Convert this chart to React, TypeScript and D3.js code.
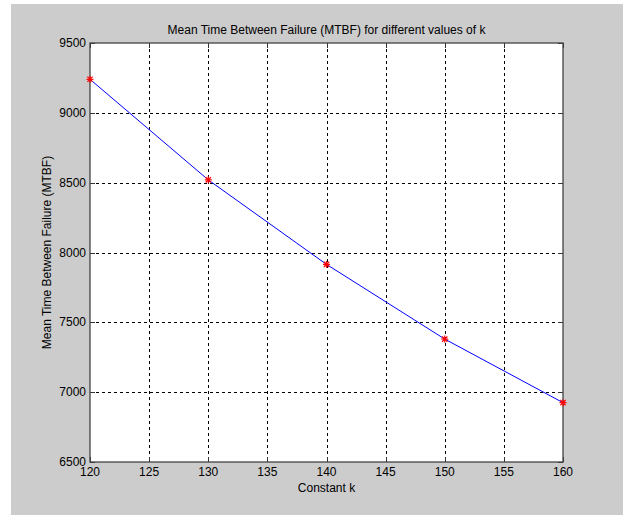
import { useEffect, useRef } from 'react';
import * as d3 from 'd3';

const kValues = [120, 130, 140, 150, 160];
const mtbfValues = [9240, 8520, 7915, 7380, 6925];
const xTicks = [120, 125, 130, 135, 140, 145, 150, 155, 160];
const yTicks = [6500, 7000, 7500, 8000, 8500, 9000, 9500];

export default function App() {
  const svgRef = useRef<SVGSVGElement>(null);

  useEffect(() => {
    if (!svgRef.current) return;
    const svg = d3.select(svgRef.current);
    svg.selectAll('*').remove();

    const width = 623;
    const height = 515;
    const margin = { top: 43, right: 60, bottom: 53, left: 90 };
    const font = 'Liberation Sans, Arial, sans-serif';

    // gray figure background
    svg.append('rect').attr('width', width).attr('height', height).attr('fill', '#fff');
    svg.append('rect')
      .attr('x', 11).attr('y', 4)
      .attr('width', width - 11).attr('height', height - 4)
      .attr('fill', '#cccccc');

    const x = d3.scaleLinear().domain([120, 160]).range([margin.left, width - margin.right]);
    const y = d3.scaleLinear().domain([6500, 9500]).range([height - margin.bottom, margin.top]);

    const x0 = x(120), x1 = x(160), y0 = y(6500), y1 = y(9500);

    svg.append('rect')
      .attr('x', x0).attr('y', y1)
      .attr('width', x1 - x0).attr('height', y0 - y1)
      .attr('fill', '#fff');

    // grid
    const grid = svg.append('g')
      .attr('stroke', '#000')
      .attr('stroke-width', 1)
      .attr('stroke-dasharray', '3,3')
      .attr('shape-rendering', 'crispEdges');
    grid.selectAll('.gx')
      .data(xTicks.slice(1, -1))
      .enter().append('line')
      .attr('x1', d => Math.round(x(d)) + 0.5).attr('x2', d => Math.round(x(d)) + 0.5)
      .attr('y1', y1).attr('y2', y0);
    grid.selectAll('.gy')
      .data(yTicks.slice(1, -1))
      .enter().append('line')
      .attr('y1', d => Math.round(y(d)) + 0.5).attr('y2', d => Math.round(y(d)) + 0.5)
      .attr('x1', x0).attr('x2', x1);

    // ticks (inward, on all four sides)
    const ticks = svg.append('g').attr('stroke', '#333').attr('shape-rendering', 'crispEdges');
    xTicks.forEach(t => {
      const px = Math.round(x(t)) + 0.5;
      ticks.append('line').attr('x1', px).attr('x2', px).attr('y1', y0).attr('y2', y0 - 5);
      ticks.append('line').attr('x1', px).attr('x2', px).attr('y1', y1).attr('y2', y1 + 5);
    });
    yTicks.forEach(t => {
      const py = Math.round(y(t)) + 0.5;
      ticks.append('line').attr('y1', py).attr('y2', py).attr('x1', x0).attr('x2', x0 + 5);
      ticks.append('line').attr('y1', py).attr('y2', py).attr('x1', x1).attr('x2', x1 - 5);
    });

    // box
    svg.append('rect')
      .attr('x', x0).attr('y', y1)
      .attr('width', x1 - x0).attr('height', y0 - y1)
      .attr('fill', 'none')
      .attr('stroke', '#444')
      .attr('stroke-width', 1.3);

    // tick labels
    svg.append('g')
      .selectAll('text')
      .data(xTicks)
      .enter().append('text')
      .attr('x', d => x(d))
      .attr('y', y0 + 14)
      .attr('text-anchor', 'middle')
      .attr('font-family', font)
      .attr('font-size', '12px')
      .attr('fill', '#000')
      .text(d => d);

    svg.append('g')
      .selectAll('text')
      .data(yTicks)
      .enter().append('text')
      .attr('x', x0 - 4)
      .attr('y', d => y(d) + 4)
      .attr('text-anchor', 'end')
      .attr('font-family', font)
      .attr('font-size', '12px')
      .attr('fill', '#000')
      .text(d => d);

    // data line
    const data = kValues.map((k, i) => ({ k, v: mtbfValues[i] }));
    const line = d3.line<{ k: number; v: number }>().x(d => x(d.k)).y(d => y(d.v));
    svg.append('path')
      .datum(data)
      .attr('d', line)
      .attr('fill', 'none')
      .attr('stroke', '#0000ff')
      .attr('stroke-width', 1);

    // star markers
    const stars = svg.append('g').attr('stroke', '#ff0000').attr('stroke-width', 1.2);
    data.forEach(d => {
      const cx = x(d.k), cy = y(d.v), r = 3.5;
      stars.append('line').attr('x1', cx - r).attr('x2', cx + r).attr('y1', cy).attr('y2', cy);
      stars.append('line').attr('x1', cx).attr('x2', cx).attr('y1', cy - r).attr('y2', cy + r);
      stars.append('line').attr('x1', cx - r * 0.75).attr('x2', cx + r * 0.75).attr('y1', cy - r * 0.75).attr('y2', cy + r * 0.75);
      stars.append('line').attr('x1', cx - r * 0.75).attr('x2', cx + r * 0.75).attr('y1', cy + r * 0.75).attr('y2', cy - r * 0.75);
    });

    // title and axis labels
    svg.append('text')
      .attr('x', (x0 + x1) / 2)
      .attr('y', 34)
      .attr('text-anchor', 'middle')
      .attr('font-family', font)
      .attr('font-size', '12px')
      .attr('fill', '#000')
      .text('Mean Time Between Failure (MTBF) for different values of k');

    svg.append('text')
      .attr('x', (x0 + x1) / 2)
      .attr('y', 492)
      .attr('text-anchor', 'middle')
      .attr('font-family', font)
      .attr('font-size', '12px')
      .attr('fill', '#000')
      .text('Constant k');

    svg.append('text')
      .attr('transform', `translate(51, ${(y0 + y1) / 2}) rotate(-90)`)
      .attr('text-anchor', 'middle')
      .attr('font-family', font)
      .attr('font-size', '12px')
      .attr('fill', '#000')
      .text('Mean Time Between Failure (MTBF)');
  }, []);

  return (
    <svg
      ref={svgRef}
      width="623"
      height="515"
      style={{ position: 'absolute', left: 0, top: 0, display: 'block' }}
    />
  );
}
